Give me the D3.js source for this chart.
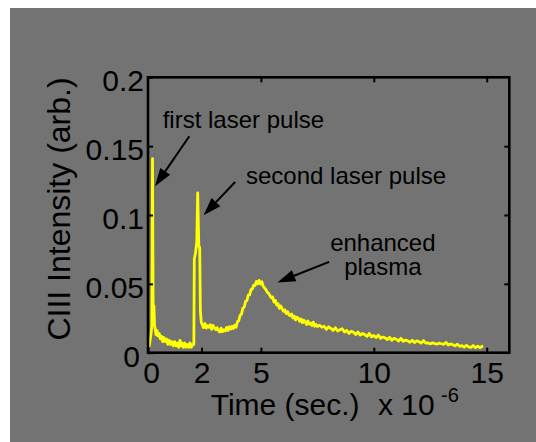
<!DOCTYPE html>
<html>
<head>
<meta charset="utf-8">
<script src="https://cdn.jsdelivr.net/npm/d3@7"></script>
<style>
  html, body { margin: 0; padding: 0; background: #ffffff; }
  svg { display: block; font-family: "Liberation Sans", Arial, Helvetica, sans-serif; }
</style>
</head>
<body>
<svg id="chart" width="536" height="442"></svg>
<script>
// CIII line intensity (arb.) vs time (microseconds), split into trace segments

// Both laser pulses and the baseline between them
const pulseTime = [
  0.00, 0.03, 0.06, 0.09, 0.12, 0.15, 0.17, 0.20, 0.23, 0.26,
  0.29, 0.32, 0.36, 0.40, 0.45, 0.50, 0.55, 0.60, 0.65, 0.70,
  0.76, 0.82, 0.88, 0.94, 1.00, 1.06, 1.12, 1.18, 1.24, 1.30,
  1.36, 1.42, 1.46, 1.50, 1.56, 1.62, 1.68, 1.74, 1.80, 1.86,
  1.92, 1.98, 2.03, 2.05, 2.10, 2.16, 2.20, 2.25, 2.29, 2.32, 2.36
];
const pulseIntensity = [
  0.004, 0.008, 0.005, 0.009, 0.012, 0.016, 0.020, 0.141, 0.022, 0.034,
  0.020, 0.017, 0.013, 0.016, 0.012, 0.014, 0.010, 0.012, 0.008, 0.011,
  0.008, 0.010, 0.006, 0.009, 0.006, 0.008, 0.005, 0.008, 0.005, 0.007,
  0.004, 0.009, 0.005, 0.007, 0.004, 0.007, 0.004, 0.006, 0.004, 0.007,
  0.004, 0.006, 0.006, 0.068, 0.072, 0.080, 0.116, 0.078, 0.076, 0.030, 0.022
];

// Plateau after the second pulse
const plateauTime = [
  2.40, 2.46, 2.52, 2.58, 2.64, 2.70, 2.76, 2.82, 2.88, 2.94,
  3.00, 3.06, 3.12, 3.18, 3.24, 3.30, 3.36, 3.42, 3.48, 3.54,
  3.60, 3.66, 3.72, 3.78, 3.84, 3.90
];
const plateauIntensity = [
  0.0205, 0.0182, 0.0212, 0.0178, 0.0196, 0.0185, 0.0203, 0.0170, 0.0198, 0.0180,
  0.0168, 0.0182, 0.0160, 0.0150, 0.0178, 0.0152, 0.0166, 0.0158, 0.0184, 0.0162,
  0.0188, 0.0172, 0.0192, 0.0175, 0.0200, 0.0185
];

// Rise of the enhanced plasma emission
const riseTime = [
  3.96, 4.02, 4.08, 4.14, 4.20, 4.26, 4.32, 4.38, 4.44, 4.50,
  4.56, 4.62, 4.68, 4.74, 4.80, 4.86, 4.92, 4.98, 5.04
];
const riseIntensity = [
  0.0225, 0.0232, 0.0272, 0.0280, 0.0325, 0.0330, 0.0372, 0.0378, 0.0418, 0.0420,
  0.0458, 0.0462, 0.0490, 0.0488, 0.0518, 0.0500, 0.0525, 0.0498, 0.0515
];

// Decay after the peak
const decayTime = [
  5.10, 5.16, 5.22, 5.28, 5.34, 5.40, 5.46, 5.52, 5.58, 5.64,
  5.70, 5.76, 5.82, 5.88, 5.94, 6.00, 6.06, 6.12, 6.18, 6.24,
  6.30, 6.36, 6.42, 6.48, 6.54, 6.60, 6.66, 6.72, 6.78, 6.84,
  6.90, 6.96, 7.02, 7.08, 7.14, 7.20, 7.26, 7.32, 7.38, 7.44, 7.50
];
const decayIntensity = [
  0.0485, 0.0470, 0.0458, 0.0440, 0.0432, 0.0415, 0.0398, 0.0405, 0.0368, 0.0380,
  0.0345, 0.0355, 0.0322, 0.0340, 0.0318, 0.0300, 0.0312, 0.0285, 0.0298, 0.0275,
  0.0268, 0.0282, 0.0252, 0.0265, 0.0238, 0.0258, 0.0250, 0.0228, 0.0245, 0.0218,
  0.0235, 0.0225, 0.0205, 0.0230, 0.0208, 0.0215, 0.0198, 0.0222, 0.0192, 0.0205, 0.0190
];

// Long tail
const tailTime = [
  7.6, 7.7, 7.8, 7.9, 8.0, 8.1, 8.2, 8.3, 8.4, 8.5,
  8.6, 8.7, 8.8, 8.9, 9.0, 9.1, 9.2, 9.3, 9.4, 9.5,
  9.6, 9.7, 9.8, 9.9, 10.0, 10.1, 10.2, 10.3, 10.4, 10.5,
  10.6, 10.7, 10.8, 10.9, 11.0, 11.1, 11.2, 11.3, 11.4, 11.5,
  11.6, 11.7, 11.8, 11.9, 12.0, 12.1, 12.2, 12.3, 12.4, 12.5,
  12.6, 12.7, 12.8, 12.9, 13.0, 13.1, 13.2, 13.3, 13.4, 13.5,
  13.6, 13.7, 13.8, 13.9, 14.0, 14.1, 14.2, 14.3, 14.4, 14.5,
  14.6, 14.7, 14.84
];
const tailIntensity = [
  0.0200, 0.0185, 0.0192, 0.0170, 0.0188, 0.0176, 0.0162, 0.0181, 0.0158, 0.0166,
  0.0174, 0.0150, 0.0162, 0.0140, 0.0156, 0.0148, 0.0132, 0.0150, 0.0128, 0.0140,
  0.0132, 0.0118, 0.0140, 0.0115, 0.0125, 0.0110, 0.0128, 0.0104, 0.0114, 0.0108,
  0.0095, 0.0112, 0.0090, 0.0104, 0.0098, 0.0084, 0.0105, 0.0082, 0.0092, 0.0086,
  0.0076, 0.0090, 0.0074, 0.0086, 0.0080, 0.0070, 0.0088, 0.0070, 0.0072, 0.0064,
  0.0072, 0.0066, 0.0062, 0.0070, 0.0065, 0.0061, 0.0075, 0.0056, 0.0064, 0.0058,
  0.0050, 0.0062, 0.0046, 0.0052, 0.0040, 0.0054, 0.0042, 0.0038, 0.0052, 0.0036,
  0.0048, 0.0036, 0.0050
];

// Axis ticks
const xTickValues = [0, 2.37, 5, 10, 15];
const xTickLabels = ["0", "2", "5", "10", "15"];
const xTopTickValues = [5, 10, 15];
const yTickValues = [0, 0.05, 0.1, 0.15, 0.2];
const yTickLabels = ["0", "0.05", "0.1", "0.15", "0.2"];
const yRightTickValues = [0.05, 0.1, 0.15];

// Annotations: text lines and arrows (tail -> head, data units)
const annotationTexts = [
  { lines: ["first laser pulse"], x: 0.65, y: 0.1635, anchor: "start" },
  { lines: ["second laser pulse"], x: 4.34, y: 0.1223, anchor: "start" },
  { lines: ["enhanced", "plasma"], x: 10.4, y: 0.0740, anchor: "middle" }
];
const annotationArrows = [
  { from: [1.83, 0.1572], to: [0.31, 0.1209] },
  { from: [3.86, 0.1240], to: [2.46, 0.0999] },
  { from: [8.02, 0.0660], to: [5.73, 0.0510] }
];

const svg = d3.select("#chart");
const W = 536, H = 442;
const plot = { left: 148, right: 509.3, top: 77.3, bottom: 352.7 };

// Figure background
svg.append("rect").attr("x", 10).attr("y", 8).attr("width", W - 10).attr("height", H - 8)
  .attr("fill", "#737373");

const x = d3.scaleLinear().domain([0, 16]).range([plot.left, plot.right]);
const y = d3.scaleLinear().domain([0, 0.2]).range([plot.bottom, plot.top]);

// Data trace
const segments = [
  [pulseTime, pulseIntensity],
  [plateauTime, plateauIntensity],
  [riseTime, riseIntensity],
  [decayTime, decayIntensity],
  [tailTime, tailIntensity]
];
const series = segments.flatMap(([ts, vs]) => ts.map((t, i) => [t, vs[i]]));
const line = d3.line().x(d => x(d[0])).y(d => y(d[1]));
svg.append("path").datum(series)
  .attr("d", line)
  .attr("fill", "none")
  .attr("stroke", "#ffff00")
  .attr("stroke-width", 2.8)
  .attr("stroke-linejoin", "round");

// Axes with inward ticks
const tickFont = 30;
const gBottom = svg.append("g").attr("transform", `translate(0,${plot.bottom})`)
  .call(d3.axisBottom(x).tickValues(xTickValues)
    .tickFormat((d, i) => xTickLabels[i]).tickSizeInner(-5).tickSizeOuter(0).tickPadding(9));
const gTop = svg.append("g").attr("transform", `translate(0,${plot.top})`)
  .call(d3.axisTop(x).tickValues(xTopTickValues).tickFormat("").tickSizeInner(-5).tickSizeOuter(0));
const gLeft = svg.append("g").attr("transform", `translate(${plot.left},0)`)
  .call(d3.axisLeft(y).tickValues(yTickValues)
    .tickFormat((d, i) => yTickLabels[i]).tickSizeInner(-5).tickSizeOuter(0).tickPadding(4));
const gRight = svg.append("g").attr("transform", `translate(${plot.right},0)`)
  .call(d3.axisRight(y).tickValues(yRightTickValues).tickFormat("").tickSizeInner(-5).tickSizeOuter(0));

[gBottom, gTop, gLeft, gRight].forEach(g => {
  g.select(".domain").remove();
  g.selectAll(".tick line").attr("stroke", "#000").attr("stroke-width", 2);
  g.selectAll(".tick text").attr("fill", "#000").attr("font-size", tickFont)
    .attr("font-family", "\"Liberation Sans\", Arial, sans-serif");
});
gLeft.selectAll(".tick text").attr("dy", "0.45em");
// the two zero labels sit at the shared corner; nudge them apart
gLeft.selectAll(".tick text").filter(d => d === 0).attr("dx", -4);
gBottom.selectAll(".tick text").filter(d => d === 0).attr("dx", 3);

// Axes box
svg.append("rect")
  .attr("x", plot.left).attr("y", plot.top)
  .attr("width", plot.right - plot.left).attr("height", plot.bottom - plot.top)
  .attr("fill", "none").attr("stroke", "#000").attr("stroke-width", 2.6);

// Axis labels
svg.append("text")
  .attr("transform", `translate(70,209) rotate(-90)`)
  .attr("text-anchor", "middle")
  .attr("font-size", 32)
  .attr("fill", "#000")
  .text("CIII Intensity (arb.)");

const xl = svg.append("text").attr("y", 415).attr("font-size", 30).attr("fill", "#000");
xl.append("tspan").attr("x", 210.7).text("Time (sec.)");
xl.append("tspan").attr("x", 378).text("x 10");
xl.append("tspan").attr("x", 441).attr("y", 402).attr("font-size", 20).text("-6");

// Annotations
annotationTexts.forEach(a => {
  const t = svg.append("text")
    .attr("font-size", 24).attr("fill", "#000").attr("text-anchor", a.anchor);
  a.lines.forEach((s, i) => {
    t.append("tspan").attr("x", x(a.x)).attr("y", y(a.y) + i * 24.5).text(s);
  });
});

annotationArrows.forEach(a => {
  const x0 = x(a.from[0]), y0 = y(a.from[1]);
  const x1 = x(a.to[0]), y1 = y(a.to[1]);
  const dx = x1 - x0, dy = y1 - y0;
  const len = Math.hypot(dx, dy);
  const ux = dx / len, uy = dy / len;
  const headLen = 18, headHalf = 6;
  const bx = x1 - ux * headLen, by = y1 - uy * headLen;
  svg.append("line")
    .attr("x1", x0).attr("y1", y0).attr("x2", bx).attr("y2", by)
    .attr("stroke", "#000").attr("stroke-width", 2);
  svg.append("path")
    .attr("d", `M${x1},${y1}L${bx - uy * headHalf},${by + ux * headHalf}L${bx + uy * headHalf},${by - ux * headHalf}Z`)
    .attr("fill", "#000");
});
</script>
</body>
</html>
